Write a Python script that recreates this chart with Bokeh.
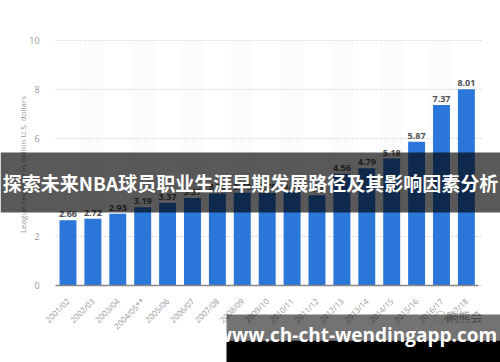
import math
from bokeh.plotting import figure
from bokeh.models import BoxAnnotation, Label, ColumnDataSource, FixedTicker, Range1d
from bokeh.embed import file_html
from bokeh.resources import INLINE
from bokeh.core.properties import value

seasons = ["2001/02", "2002/03", "2003/04", "2004/05**", "2005/06", "2006/07",
           "2007/08", "2008/09", "2009/10", "2010/11", "2011/12", "2012/13",
           "2013/14", "2014/15", "2015/16", "2016/17", "2017/18"]
revenue = [2.66, 2.72, 2.93, 3.19, 3.37, 3.57, 3.76, 3.79, 3.78, 3.81, 3.68,
           4.56, 4.79, 5.18, 5.87, 7.37, 8.01]
revenue_labels = ["%.2f" % v for v in revenue]
y_ticks = [0, 2, 4, 6, 8, 10]
y_label = "League revenue in billion U.S. dollars"
title_text = "探索未来NBA球员职业生涯早期发展路径及其影响因素分析"
url_text = "www.ch-cht-wendingapp.com"
mark_text = "◯响熊会"

n = len(seasons)
xs = list(range(n))
stripe_x = xs[1::2]
stripe_tops = [y_ticks[-1]] * len(stripe_x)

p = figure(width=500, height=362,
           x_range=Range1d(-2.71, 17.37), y_range=Range1d(-3.143, 11.633),
           output_backend="svg", toolbar_location=None)
p.min_border = 0
p.outline_line_color = None
p.background_fill_color = "white"
p.border_fill_color = "white"

# faint alternate stripes
p.vbar(x=stripe_x, top=stripe_tops, bottom=0, width=0.92,
       fill_color="#fcfcfc", line_color=None, level="underlay")

# dotted horizontal grid lines
p.segment(x0=[-0.5] * len(y_ticks), x1=[n - 0.4] * len(y_ticks), y0=y_ticks, y1=y_ticks,
          line_color="#d6d6d6", line_dash="2 2", line_width=1, level="underlay")

src = ColumnDataSource(dict(x=xs, top=revenue, lab=revenue_labels))
p.vbar(x="x", top="top", bottom=0, width=0.68, source=src,
       fill_color="#2b76d9", line_color=None)
p.text(x="x", y="top", text="lab", source=src, text_align="center",
       text_baseline="bottom", y_offset=-3, text_font=value("Open Sans"),
       text_font_size="9px", text_font_style="bold", text_color="#505050")

# axes, fixed inside the canvas
p.xgrid.grid_line_color = None
p.ygrid.grid_line_color = None

p.yaxis.fixed_location = -0.5
p.yaxis.ticker = FixedTicker(ticks=y_ticks)
p.yaxis.bounds = (y_ticks[0], y_ticks[-1])
p.yaxis.axis_line_color = None
p.yaxis.major_tick_line_color = None
p.yaxis.minor_tick_line_color = None
p.yaxis.major_label_text_color = "#999999"
p.yaxis.major_label_text_font = "Open Sans"
p.yaxis.major_label_text_font_size = "9px"
p.yaxis.major_label_standoff = 10

p.xaxis.fixed_location = 0
p.xaxis.ticker = FixedTicker(ticks=xs)
p.xaxis.bounds = (-0.5, n - 0.5)
p.xaxis.major_label_overrides = {i: s for i, s in zip(xs, seasons)}
p.xaxis.axis_line_color = "#888888"
p.xaxis.axis_line_width = 1.5
p.xaxis.major_tick_line_color = None
p.xaxis.minor_tick_line_color = None
p.xaxis.major_label_orientation = math.pi / 4
p.xaxis.major_label_text_color = "#999999"
p.xaxis.major_label_text_font = "Open Sans"
p.xaxis.major_label_text_font_size = "8px"
p.xaxis.major_label_standoff = 8

p.add_layout(Label(x=22, y=164, x_units="canvas", y_units="canvas", text=y_label,
                   angle=math.pi / 2, text_align="center", text_baseline="middle",
                   text_color="#999999", text_font="Open Sans", text_font_size="8px"))

# overlays (canvas units)
p.add_layout(Label(x=458, y=316, x_units="canvas", y_units="canvas", text=mark_text,
                   text_align="center", text_baseline="middle", text_color="#a0a0a0",
                   text_font="Noto Sans CJK SC", text_font_size="12px"))
p.add_layout(BoxAnnotation(left=0, right=500, top=152, bottom=212,
                           left_units="canvas", right_units="canvas",
                           top_units="canvas", bottom_units="canvas",
                           fill_color="black", fill_alpha=0.65, line_color=None))
p.add_layout(Label(x=250, y=182, x_units="canvas", y_units="canvas", text=title_text,
                   text_align="center", text_baseline="middle", text_color="white",
                   text_font="Noto Sans CJK SC", text_font_style="bold",
                   text_font_size="19px"))
p.add_layout(BoxAnnotation(left=226, right=500, top=314, bottom=340,
                           left_units="canvas", right_units="canvas",
                           top_units="canvas", bottom_units="canvas",
                           fill_color="black", fill_alpha=0.55, line_color=None))
p.add_layout(BoxAnnotation(left=226, right=500, top=340, bottom=362,
                           left_units="canvas", right_units="canvas",
                           top_units="canvas", bottom_units="canvas",
                           fill_color="black", fill_alpha=1.0, line_color=None))
p.add_layout(Label(x=356, y=334, x_units="canvas", y_units="canvas", text=url_text,
                   text_align="center", text_baseline="middle", text_color="white",
                   text_font="Open Sans", text_font_style="bold",
                   text_font_size="19px"))

open("out.html", "w").write(file_html(p, INLINE))
